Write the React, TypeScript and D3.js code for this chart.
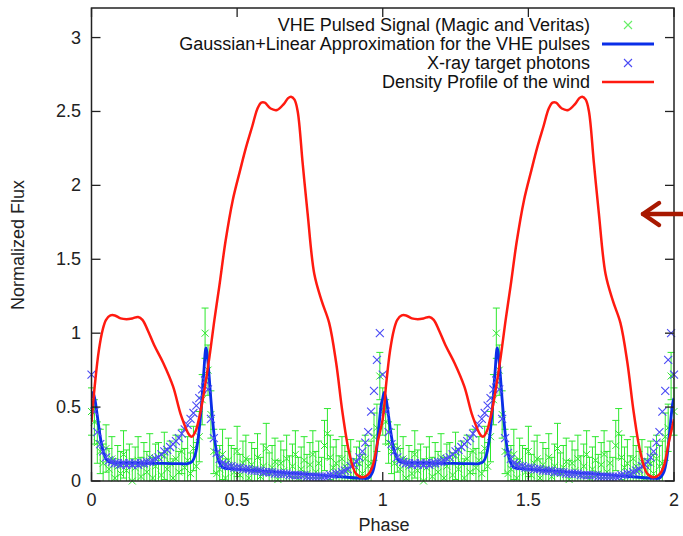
import React from "react";
import * as d3 from "d3";

const W = 683;
const H = 536;
const PL = 91.5, PR = 674, PT = 8, PB = 481;

const xTicks = [0, 0.5, 1, 1.5, 2];
const xTickLabels = ["0", "0.5", "1", "1.5", "2"];
const yTicks = [0, 0.5, 1, 1.5, 2, 2.5, 3];
const yTickLabels = ["0", "0.5", "1", "1.5", "2", "2.5", "3"];
const periods = [0, 1];

const legendLabels = [
  "VHE Pulsed Signal (Magic and Veritas)",
  "Gaussian+Linear Approximation for the VHE pulses",
  "X-ray target photons",
  "Density Profile of the wind",
];

// Density profile of the wind (one period, phase 0..1)
const densityPhase = [0, 0.012, 0.025, 0.038, 0.05, 0.065, 0.08, 0.1, 0.12, 0.14, 0.16, 0.175, 0.193, 0.215, 0.246, 0.28, 0.308, 0.336, 0.345, 0.358, 0.37, 0.382, 0.405, 0.422, 0.439, 0.46, 0.485, 0.51, 0.531, 0.552, 0.57, 0.583, 0.595, 0.615, 0.637, 0.66, 0.675, 0.685, 0.697, 0.708, 0.725, 0.742, 0.765, 0.79, 0.816, 0.84, 0.862, 0.885, 0.908, 0.931, 0.95, 0.965, 0.982, 1.0];
const densityValue = [0.40, 0.66, 0.88, 1.02, 1.09, 1.12, 1.12, 1.10, 1.095, 1.10, 1.11, 1.09, 1.02, 0.92, 0.80, 0.64, 0.44, 0.31, 0.30, 0.34, 0.43, 0.55, 0.84, 1.09, 1.32, 1.62, 1.90, 2.10, 2.26, 2.40, 2.52, 2.56, 2.56, 2.52, 2.51, 2.55, 2.59, 2.60, 2.58, 2.50, 2.15, 1.81, 1.40, 1.22, 1.07, 0.80, 0.46, 0.19, 0.05, 0.025, 0.045, 0.10, 0.26, 0.42];

// Gaussian + linear approximation (one period)
const fitPhase = [0, 0.005, 0.012, 0.02, 0.03, 0.04, 0.05, 0.06, 0.07, 0.1, 0.2, 0.3, 0.33, 0.345, 0.355, 0.365, 0.375, 0.385, 0.393, 0.4, 0.41, 0.42, 0.43, 0.44, 0.45, 0.46, 0.48, 0.6, 0.75, 0.9, 0.93, 0.95, 0.965, 0.975, 0.985, 0.995, 1.0];
const fitValue = [0.56, 0.6, 0.55, 0.44, 0.3, 0.2, 0.15, 0.13, 0.125, 0.122, 0.12, 0.117, 0.118, 0.13, 0.17, 0.27, 0.45, 0.72, 0.9, 0.8, 0.55, 0.33, 0.19, 0.12, 0.092, 0.086, 0.083, 0.065, 0.045, 0.022, 0.018, 0.02, 0.06, 0.15, 0.33, 0.52, 0.56];

// X-ray target photons, phase step 0.01 (one period)
const xrayValue = [
  0.72, 0.47, 0.33, 0.25, 0.2, 0.16, 0.14, 0.13, 0.12, 0.12,
  0.11, 0.12, 0.11, 0.12, 0.11, 0.12, 0.11, 0.12, 0.12, 0.13,
  0.13, 0.14, 0.15, 0.16, 0.18, 0.2, 0.21, 0.23, 0.25, 0.27,
  0.29, 0.32, 0.35, 0.38, 0.42, 0.46, 0.51, 0.56, 0.62, 0.68,
  0.62, 0.42, 0.29, 0.19, 0.15, 0.12, 0.11, 0.1, 0.1, 0.09,
  0.09, 0.09, 0.08, 0.08, 0.08, 0.07, 0.07, 0.07, 0.07, 0.06,
  0.06, 0.06, 0.06, 0.05, 0.05, 0.05, 0.05, 0.05, 0.04, 0.04,
  0.04, 0.04, 0.04, 0.04, 0.03, 0.03, 0.03, 0.03, 0.03, 0.03,
  0.03, 0.03, 0.04, 0.04, 0.05, 0.05, 0.06, 0.07, 0.08, 0.1,
  0.11, 0.13, 0.16, 0.2, 0.26, 0.33, 0.47, 0.61, 0.82, 1.0,
];

// VHE pulsed signal, phase step 0.01 (one period)
const vheValue = [
  0.47, 0.4, 0.26, 0.2, 0.12, 0.22, 0.08, 0.15, 0.02, 0.1,
  0.05, 0.18, 0.07, 0.12, 0.0, 0.09, 0.14, 0.03, 0.11, 0.06,
  0.16, 0.02, 0.1, 0.13, 0.04, 0.17, 0.08, 0.12, 0.02, 0.15,
  0.06, 0.2, 0.09, 0.14, 0.05, 0.22, 0.1, 0.3, 0.55, 1.0,
  0.75, 0.45, 0.2, 0.05, 0.08, 0.18, 0.02, 0.14, 0.1, 0.06,
  0.2, 0.04, 0.12, 0.15, 0.02, 0.11, 0.08, 0.16, 0.03, 0.1,
  0.22, 0.05, 0.09, 0.13, 0.01, 0.12, 0.07, 0.15, 0.04, 0.1,
  0.18, 0.02, 0.08, 0.14, 0.05, 0.11, 0.18, 0.06, 0.12, 0.03,
  0.24, 0.32, 0.16, 0.09, 0.12, 0.04, 0.15, 0.1, 0.07, 0.13,
  0.02, 0.09, 0.12, 0.05, 0.15, 0.1, 0.12, 0.3, 0.36, 0.71,
];
const vheError = [
  0.16, 0.15, 0.14, 0.15, 0.13, 0.16, 0.14, 0.15, 0.13, 0.14,
  0.15, 0.16, 0.14, 0.13, 0.15, 0.14, 0.16, 0.13, 0.15, 0.14,
  0.16, 0.14, 0.15, 0.13, 0.15, 0.16, 0.14, 0.15, 0.13, 0.16,
  0.14, 0.15, 0.13, 0.16, 0.14, 0.15, 0.16, 0.17, 0.17, 0.17,
  0.17, 0.16, 0.15, 0.14, 0.16, 0.17, 0.13, 0.15, 0.14, 0.16,
  0.17, 0.14, 0.15, 0.16, 0.13, 0.15, 0.14, 0.16, 0.13, 0.15,
  0.17, 0.14, 0.15, 0.16, 0.13, 0.15, 0.14, 0.16, 0.13, 0.15,
  0.16, 0.14, 0.15, 0.16, 0.13, 0.15, 0.16, 0.14, 0.15, 0.13,
  0.17, 0.17, 0.15, 0.14, 0.16, 0.13, 0.15, 0.14, 0.13, 0.15,
  0.13, 0.14, 0.15, 0.13, 0.16, 0.14, 0.15, 0.16, 0.16, 0.16,
];

const GREEN = "#2ee82e";
const BLUE_LINE = "#0a2ee8";
const XRAY = "#4a4af5";
const RED = "#ff1a10";
const FONT = "'Liberation Sans', Arial, Helvetica, sans-serif";
const FS = 18;

export default function App() {
  const x = d3.scaleLinear().domain([0, 2]).range([PL, PR]);
  const y = d3.scaleLinear().domain([0, 3.2]).range([PB, PT]);

  const repeat = (ph: number[], val: number[]) => {
    const out: [number, number][] = [];
    periods.forEach((p, k) => {
      ph.forEach((f, i) => {
        if (k > 0 && i === 0) return;
        out.push([f + p, val[i]]);
      });
    });
    return out;
  };

  const redPts = repeat(densityPhase, densityValue);
  const bluePts = repeat(fitPhase, fitValue);
  const line = d3
    .line<[number, number]>()
    .x((d) => x(d[0]))
    .y((d) => y(d[1]))
    .curve(d3.curveCatmullRom.alpha(0.5));

  const xrayPts: [number, number][] = [];
  const vhePts: [number, number, number][] = [];
  for (let i = 0; i <= 200; i++) {
    xrayPts.push([i / 100, xrayValue[i % 100]]);
    vhePts.push([i / 100, vheValue[i % 100], vheError[i % 100]]);
  }

  const cross = (cx: number, cy: number, r: number) =>
    `M${cx - r},${cy - r}L${cx + r},${cy + r}M${cx - r},${cy + r}L${cx + r},${cy - r}`;

  const yc = (v: number) => Math.max(PT, Math.min(PB, y(v)));
  const tickLen = 9;

  const legendY = [25, 44, 63, 82];

  return (
    <svg
      width={W}
      height={H}
      style={{ position: "fixed", left: 0, top: 0, background: "#fff" }}
      fontFamily={FONT}
    >
      <defs>
        <clipPath id="plotclip">
          <rect x={PL} y={PT} width={PR - PL} height={PB - PT} />
        </clipPath>
      </defs>
      <rect x={0} y={0} width={W} height={H} fill="#fff" />

      {/* VHE points with error bars */}
      <g stroke={GREEN} strokeWidth={1} fill="none">
        {vhePts.map(([p, v, e], i) => {
          const px = x(p);
          const lo = yc(v - e);
          const hi = yc(v + e);
          const py = y(v);
          return (
            <g key={i}>
              <path d={`M${px},${lo}L${px},${hi}`} />
              {v + e > 0 && <path d={`M${px - 3.5},${hi}L${px + 3.5},${hi}`} />}
              {v - e > 0 && <path d={`M${px - 3.5},${lo}L${px + 3.5},${lo}`} />}
              <path d={cross(px, py, 3.5)} />
            </g>
          );
        })}
      </g>

      {/* Gaussian + linear */}
      <path
        d={line(bluePts) || ""}
        fill="none"
        stroke={BLUE_LINE}
        strokeWidth={2.8}
        clipPath="url(#plotclip)"
      />

      {/* X-ray markers */}
      <g stroke={XRAY} strokeWidth={1.1} fill="none">
        {xrayPts.map(([p, v], i) => (
          <path key={i} d={cross(x(p), y(v), 4)} />
        ))}
      </g>

      {/* Density */}
      <path
        d={line(redPts) || ""}
        fill="none"
        stroke={RED}
        strokeWidth={2.5}
        clipPath="url(#plotclip)"
      />

      {/* frame */}
      <rect x={PL} y={PT} width={PR - PL} height={PB - PT} fill="none" stroke="#222" strokeWidth={1.5} />
      <g stroke="#222" strokeWidth={1.3}>
        {xTicks.map((t, i) => (
          <g key={i}>
            <line x1={x(t)} x2={x(t)} y1={PB} y2={PB - tickLen} />
            <line x1={x(t)} x2={x(t)} y1={PT} y2={PT + tickLen} />
          </g>
        ))}
        {yTicks.map((t, i) => (
          <g key={i}>
            <line x1={PL} x2={PL + tickLen} y1={y(t)} y2={y(t)} />
            <line x1={PR} x2={PR - tickLen} y1={y(t)} y2={y(t)} />
          </g>
        ))}
      </g>
      <g fontSize={FS} fill="#222">
        {xTicks.map((t, i) => (
          <text key={i} x={x(t)} y={506} textAnchor="middle">
            {xTickLabels[i]}
          </text>
        ))}
        {yTicks.map((t, i) => (
          <text key={i} x={81} y={y(t) + 6} textAnchor="end">
            {yTickLabels[i]}
          </text>
        ))}
      </g>
      <text x={384} y={531} textAnchor="middle" fontSize={FS} fill="#222">
        Phase
      </text>
      <text
        transform={`translate(24,${245}) rotate(-90)`}
        textAnchor="middle"
        fontSize={FS}
        fill="#222"
      >
        Normalized Flux
      </text>

      {/* legend */}
      <g fontSize={FS} fill="#111">
        {legendLabels.map((l, i) => (
          <text key={i} x={590} y={legendY[i] + 6} textAnchor="end">
            {l}
          </text>
        ))}
      </g>
      <path d={cross(628, legendY[0], 4)} stroke="#66ee66" strokeWidth={1.1} fill="none" />
      <line x1={602} x2={654} y1={legendY[1]} y2={legendY[1]} stroke={BLUE_LINE} strokeWidth={2.8} />
      <path d={cross(628, legendY[2], 4)} stroke={XRAY} strokeWidth={1.1} fill="none" />
      <line x1={602} x2={654} y1={legendY[3]} y2={legendY[3]} stroke={RED} strokeWidth={2.5} />

      {/* annotation arrow */}
      <g stroke="#a81800" strokeWidth={4.5} fill="none" strokeLinecap="round" strokeLinejoin="round">
        <line x1={643} x2={683} y1={214} y2={214} />
        <path d="M659,203L643,214L659,225" />
      </g>
    </svg>
  );
}
